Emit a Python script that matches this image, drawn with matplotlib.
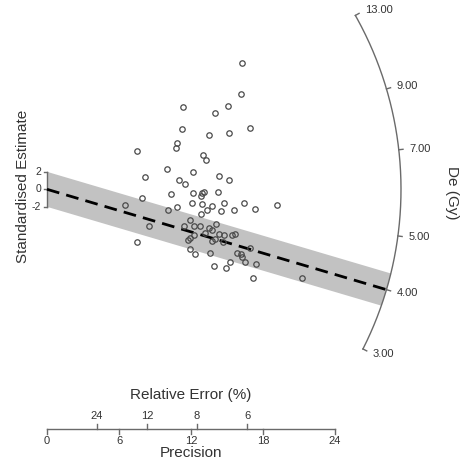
import numpy as np
import matplotlib
matplotlib.use("Agg")
import matplotlib.pyplot as plt
from matplotlib.patches import Polygon

plt.rcParams['font.family'] = ['Liberation Sans', 'DejaVu Sans']

# ---- data: precision (1/se) and standardised estimate of each aliquot ----
precision = [16.23, 16.17, 15.11, 11.35, 13.96, 16.90, 11.29, 15.17, 13.53, 10.86,
             10.73, 7.52, 13.00, 13.25, 9.98, 12.14, 8.14, 14.36, 11.02, 15.18,
             11.46, 12.14, 12.94, 13.11, 12.83, 14.23, 10.33, 7.89, 6.52, 12.08,
             12.94, 13.79, 14.73, 16.39, 19.19, 10.85, 13.31, 14.48, 15.61, 17.32,
             10.10, 12.82, 11.89, 14.10, 8.54, 11.39, 12.27, 12.77, 13.54, 13.79,
             13.19, 14.36, 14.78, 15.39, 15.63, 12.28, 11.90, 11.78, 13.96, 13.75,
             14.67, 7.52, 16.92, 11.89, 12.33, 13.61, 15.86, 16.13, 16.25, 15.21,
             16.48, 17.38, 13.93, 14.89, 17.13, 21.23]
std_estimate = [14.40, 10.89, 9.55, 9.37, 8.75, 7.03, 6.86, 6.41, 6.26, 5.26,
                4.75, 4.40, 3.90, 3.37, 2.29, 1.98, 1.44, 1.49, 1.01, 1.01,
                0.58, -0.39, -0.46, -0.34, -0.80, -0.27, -0.59, -0.94, -1.79, -1.60,
                -1.70, -1.94, -1.53, -1.62, -1.85, -2.05, -2.39, -2.45, -2.42, -2.29,
                -2.40, -2.79, -3.51, -3.99, -4.23, -4.16, -4.16, -4.16, -4.46, -4.65,
                -4.94, -5.07, -5.19, -5.25, -5.13, -5.25, -5.60, -5.79, -5.70, -5.89,
                -5.97, -5.99, -6.67, -6.77, -7.43, -7.31, -7.28, -7.39, -7.77, -8.27,
                -8.31, -8.51, -8.77, -9.03, -10.19, -10.19]

z_central_de = 6.0          # De (Gy) at standardised estimate 0
centrality_de = 4.0         # De (Gy) of the dashed central line
de_ticks = [3.0, 4.0, 5.0, 7.0, 9.0, 13.0]
precision_ticks = [0, 6, 12, 18, 24]
rel_error_ticks = [24, 12, 8, 6]
std_ticks = [2, 0, -2]

# ---- layout ----
W, H, DPI = 465, 474, 100
OX, OY = 47.0, 189.3        # pixel position of the plot origin
KX, KY = 12.0, 8.75         # pixels per precision unit / per z unit
R_PX = 354.0                # radius of the De arc in pixels
A, B = R_PX / KX, R_PX / KY  # arc as an ellipse in data units
AXIS_Z = (OY - 429.0) / KY  # height of the precision axis

fig = plt.figure(figsize=(W / DPI, H / DPI), dpi=DPI)
ax = fig.add_axes([0, 0, 1, 1])
ax.set_xlim(-OX / KX, (W - OX) / KX)
ax.set_ylim((OY - H) / KY, OY / KY)
ax.axis('off')

zc = np.log(z_central_de)
line_col = '#6a6a6a'
text_col = '#333333'


def arc_point(de, scale=1.0):
    s = np.log(de) - zc
    x = 1.0 / np.sqrt(1.0 / A**2 + s**2 / B**2)
    return scale * x, scale * s * x


def line_hit(s, c):
    qa = 1.0 / A**2 + s**2 / B**2
    qb = 2 * s * c / B**2
    qc = c**2 / B**2 - 1
    x = (-qb + np.sqrt(qb**2 - 4 * qa * qc)) / (2 * qa)
    return x, s * x + c


# grey +-2 band around the central line, closed by the arc
s0 = np.log(centrality_de) - zc
xt, zt = line_hit(s0, 2.0)
xb, zb = line_hit(s0, -2.0)
t_top = np.arctan2(zt / B, xt / A)
t_bot = np.arctan2(zb / B, xb / A)
tt = np.linspace(t_top, t_bot, 60)
poly = [(0, 2.0), (xt, zt)] + list(zip(A * np.cos(tt), B * np.sin(tt))) + [(xb, zb), (0, -2.0)]
ax.add_patch(Polygon(poly, closed=True, facecolor='#c2c2c2', edgecolor='none', zorder=1))

# dashed central line
xe, ze = arc_point(centrality_de)
ax.plot([0, xe], [0, ze], color='black', lw=2.0, dashes=(4.6, 2.6), zorder=3)

# data points
ax.plot(precision, std_estimate, linestyle='none', marker='o', markersize=3.9,
        markerfacecolor='none', markeredgecolor='#4a4a4a', markeredgewidth=0.9, zorder=4)

# De arc with ticks and labels
de_curve = np.exp(np.linspace(np.log(min(de_ticks)), np.log(max(de_ticks)), 300))
ax_, az_ = zip(*[arc_point(d) for d in de_curve])
ax.plot(ax_, az_, color=line_col, lw=1.0, zorder=2)
for d in de_ticks:
    x0, y0 = arc_point(d)
    x1, y1 = arc_point(d, 1.012)
    ax.plot([x0, x1], [y0, y1], color=line_col, lw=1.0)
    xl, yl = arc_point(d, 1.03)
    ax.text(xl, yl, f"{d:.2f}", ha='left', va='center', fontsize=8, color=text_col)
ax.text((451.7 - OX) / KX, (OY - 193) / KY, "De (Gy)", rotation=270,
        ha='center', va='center', fontsize=11, color=text_col)

# standardised estimate axis
ax.plot([0, 0], [min(std_ticks), max(std_ticks)], color=line_col, lw=1.0)
for v in std_ticks:
    ax.plot([0, -3.0 / KX], [v, v], color=line_col, lw=1.0)
    ax.text(-6.0 / KX, v, f"{v:d}", ha='right', va='center', fontsize=7.5, color=text_col)
ax.text(-24.0 / KX, (OY - 186.5) / KY, "Standardised Estimate", rotation=90,
        ha='center', va='center', fontsize=11, color=text_col)

# precision / relative error axis
ax.plot([min(precision_ticks), max(precision_ticks)], [AXIS_Z, AXIS_Z], color=line_col, lw=1.0)
for p in precision_ticks:
    ax.plot([p, p], [AXIS_Z, AXIS_Z - 5.0 / KY], color=line_col, lw=1.0)
    ax.text(p, AXIS_Z - 11.7 / KY, f"{p:d}", ha='center', va='center', fontsize=8, color=text_col)
for r in rel_error_ticks:
    p = 100.0 / r
    ax.plot([p, p], [AXIS_Z, AXIS_Z + 5.0 / KY], color=line_col, lw=1.0)
    ax.text(p, AXIS_Z + 13.3 / KY, f"{r:d}", ha='center', va='center', fontsize=8, color=text_col)
ax.text(12, AXIS_Z + 34 / KY, "Relative Error (%)", ha='center', va='center',
        fontsize=11, color=text_col)
ax.text(12, AXIS_Z - 23.7 / KY, "Precision", ha='center', va='center',
        fontsize=11, color=text_col)

fig.savefig("out.png", dpi=DPI, facecolor='white')
